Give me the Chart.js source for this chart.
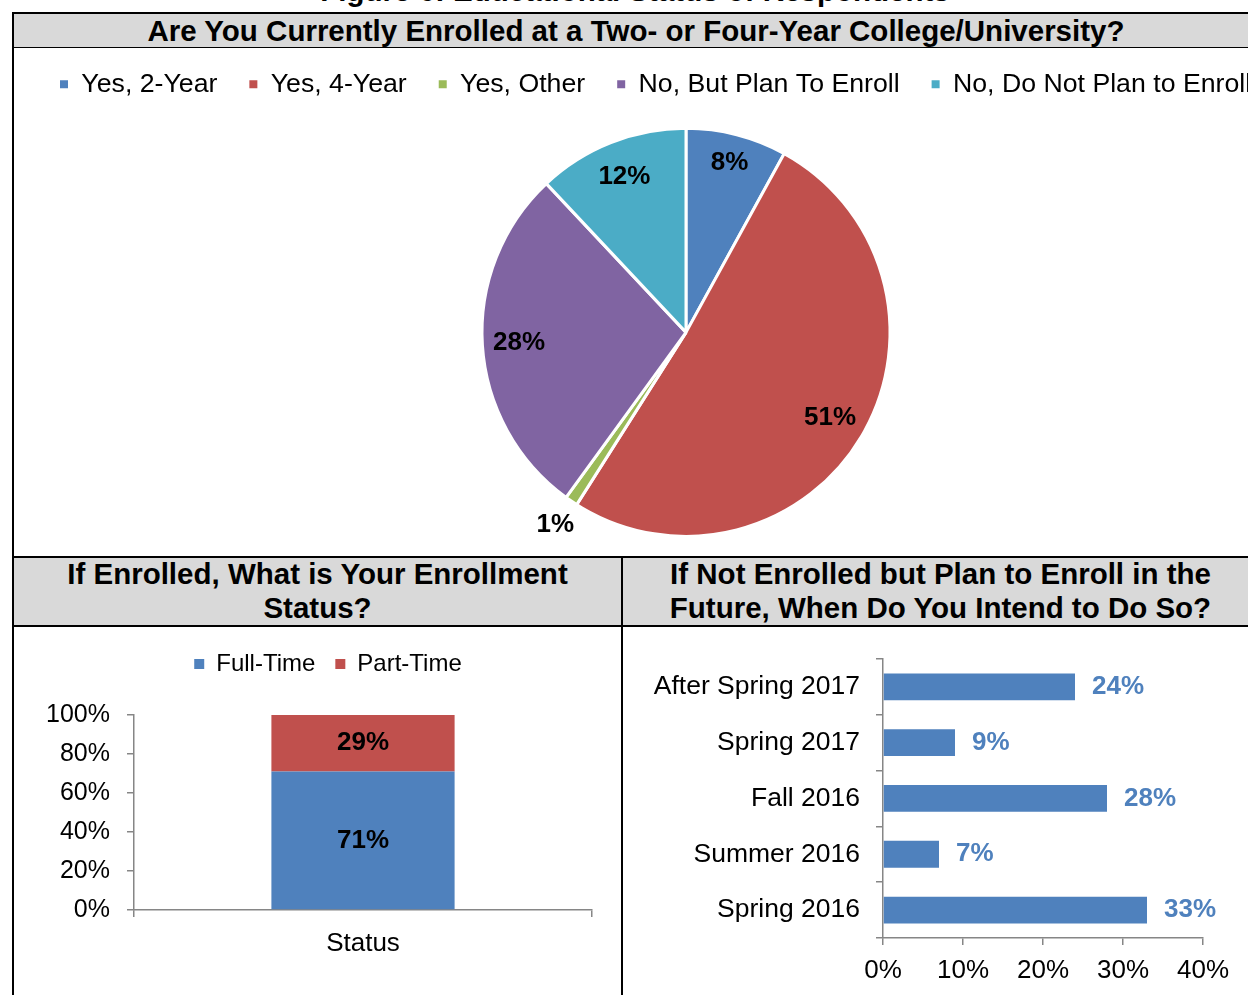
<!DOCTYPE html>
<html>
<head>
<meta charset="utf-8">
<title>Educational Status of Respondents</title>
<script src="https://cdn.jsdelivr.net/npm/chart.js@4.4.1/dist/chart.umd.min.js"></script>
<style>
  html, body { margin: 0; padding: 0; background: #fff; overflow: hidden; }
  body { width: 1248px; height: 995px; position: relative; font-family: "Liberation Sans", Arial, sans-serif; }
  .rule { position: absolute; background: #000; }
  .band { position: absolute; background: #d9d9d9; }
  .head { position: absolute; font-weight: bold; font-size: 29.5px; text-align: center; color: #000; white-space: nowrap; }
  canvas { position: absolute; }
</style>
</head>
<body>

<!-- figure caption, mostly above the page edge -->
<div class="head" style="left:12px; width:1246px; top:-24px; line-height:29px;">Figure 6: Educational Status of Respondents</div>

<!-- table frame -->
<div class="band" style="left:14px; top:14px; width:1244px; height:33px;"></div>
<div class="band" style="left:14px; top:558px; width:1244px; height:67px;"></div>
<div class="rule" style="left:12px; top:12px; width:1246px; height:2px;"></div>
<div class="rule" style="left:12px; top:47px; width:1246px; height:1px;"></div>
<div class="rule" style="left:12px; top:556px; width:1246px; height:2px;"></div>
<div class="rule" style="left:12px; top:625px; width:1246px; height:2px;"></div>
<div class="rule" style="left:12px; top:12px; width:2px; height:983px;"></div>
<div class="rule" style="left:621px; top:556px; width:2px; height:439px;"></div>

<div class="head" style="left:14px; top:14px; width:1244px; line-height:33px;">Are You Currently Enrolled at a Two- or Four-Year College/University?</div>
<div class="head" style="left:14px; top:557px; width:607px; line-height:34px;">If Enrolled, What is Your Enrollment<br>Status?</div>
<div class="head" style="left:623px; top:557px; width:635px; line-height:34px;">If Not Enrolled but Plan to Enroll in the<br>Future, When Do You Intend to Do So?</div>

<canvas id="enrollChart" width="1316" height="518" style="left:28px; top:39px;"></canvas>
<canvas id="statusChart" width="607" height="368" style="left:14px; top:627px;"></canvas>
<canvas id="timingChart" width="635" height="368" style="left:623px; top:627px;"></canvas>

<script>
// enrollment question (pie)
const enrollLabels = ['Yes, 2-Year', 'Yes, 4-Year', 'Yes, Other', 'No, But Plan To Enroll', 'No, Do Not Plan to Enroll'];
const enrollShares = [8, 51, 1, 28, 12];

// enrollment status (stacked column)
const statusLabels = ['Status'];
const fullTimeShares = [71];
const partTimeShares = [29];

// intended enrollment term (horizontal bars, top to bottom)
const timingLabels = ['After Spring 2017', 'Spring 2017', 'Fall 2016', 'Summer 2016', 'Spring 2016'];
const timingShares = [24, 9, 28, 7, 33];

const BLUE = '#4F81BD', RED = '#C0504D', GREEN = '#9BBB59', PURPLE = '#8064A2', AQUA = '#4BACC6';
const AXIS = '#868686';
const FONT = '"Liberation Sans", Arial, sans-serif';

Chart.defaults.font.family = FONT;
Chart.defaults.color = '#000';

const pct = v => v + '%';

// percent labels inside each slice (tiny slices get theirs outside)
const pieLabels = {
    id: 'pieLabels',
    afterDatasetsDraw(chart) {
        const ctx = chart.ctx;
        const values = chart.data.datasets[0].data;
        ctx.save();
        ctx.font = 'bold 26px ' + FONT;
        ctx.fillStyle = '#000';
        ctx.textAlign = 'center';
        ctx.textBaseline = 'middle';
        chart.getDatasetMeta(0).data.forEach((arc, i) => {
            const p = arc.getProps(['x', 'y', 'startAngle', 'endAngle', 'outerRadius'], true);
            const mid = (p.startAngle + p.endAngle) / 2;
            const v = values[i];
            const r = p.outerRadius * (v < 3 ? 1.14 : v < 10 ? 0.86 : 0.82);
            ctx.fillText(pct(v), p.x + Math.cos(mid) * r, p.y + Math.sin(mid) * r);
        });
        ctx.restore();
    }
};

// value in the middle of each stacked segment
const segmentLabels = {
    id: 'segmentLabels',
    afterDatasetsDraw(chart) {
        const ctx = chart.ctx;
        ctx.save();
        ctx.font = 'bold 26px ' + FONT;
        ctx.fillStyle = '#000';
        ctx.textAlign = 'center';
        ctx.textBaseline = 'middle';
        chart.data.datasets.forEach((ds, di) => {
            chart.getDatasetMeta(di).data.forEach((bar, i) => {
                ctx.fillText(pct(ds.data[i]), bar.x, (bar.y + bar.base) / 2);
            });
        });
        ctx.restore();
    }
};

// value just past the end of each horizontal bar
const barEndLabels = {
    id: 'barEndLabels',
    afterDatasetsDraw(chart) {
        const ctx = chart.ctx;
        const values = chart.data.datasets[0].data;
        ctx.save();
        ctx.font = 'bold 26px ' + FONT;
        ctx.fillStyle = BLUE;
        ctx.textAlign = 'left';
        ctx.textBaseline = 'middle';
        chart.getDatasetMeta(0).data.forEach((bar, i) => {
            ctx.fillText(pct(values[i]), bar.x + 17, bar.y);
        });
        ctx.restore();
    }
};

// extra room under the legend, and legend nudged right over the plot
const legendGap = {
    id: 'legendGap',
    beforeInit(chart) {
        const fit = chart.legend.fit;
        chart.legend.fit = function () {
            fit.bind(chart.legend)();
            this.height += 29;
        };
    },
    afterLayout(chart) {
        chart.legend.left += 25;
        chart.legend.right += 25;
    }
};

// pie
new Chart(document.getElementById('enrollChart'), {
    type: 'pie',
    data: {
        labels: enrollLabels,
        datasets: [{
            data: enrollShares,
            backgroundColor: [BLUE, RED, GREEN, PURPLE, AQUA],
            borderColor: '#fff',
            borderWidth: 3,
            radius: 204
        }]
    },
    options: {
        responsive: false,
        animation: false,
        layout: { padding: 0 },
        plugins: {
            legend: {
                align: 'start',
                labels: {
                    boxWidth: 8,
                    boxHeight: 8,
                    padding: 32,
                    font: { size: 26.7 },
                    color: '#000',
                    generateLabels(chart) {
                        const items = Chart.overrides.pie.plugins.legend.labels.generateLabels(chart);
                        return items.map(it => Object.assign(it, { lineWidth: 0 }));
                    }
                }
            },
            tooltip: { enabled: false }
        }
    },
    plugins: [pieLabels]
});

// stacked column
new Chart(document.getElementById('statusChart'), {
    type: 'bar',
    data: {
        labels: statusLabels,
        datasets: [
            { label: 'Full-Time', data: fullTimeShares, backgroundColor: BLUE, barPercentage: 1, categoryPercentage: 0.4 },
            { label: 'Part-Time', data: partTimeShares, backgroundColor: RED, barPercentage: 1, categoryPercentage: 0.4 }
        ]
    },
    options: {
        responsive: false,
        animation: false,
        layout: { padding: { left: 0, right: 29, top: 5, bottom: 0 } },
        scales: {
            x: {
                stacked: true,
                grid: { drawOnChartArea: false, tickLength: 7, color: AXIS, lineWidth: 1.5 },
                border: { color: AXIS, width: 1.5 },
                ticks: { font: { size: 26 }, padding: 11 },
                afterFit(s) { s.height = 85; }
            },
            y: {
                stacked: true,
                min: 0,
                max: 100,
                grid: { drawOnChartArea: false, tickLength: 7, color: AXIS, lineWidth: 1.5 },
                border: { color: AXIS, width: 1.5 },
                ticks: { stepSize: 20, callback: pct, font: { size: 25 }, padding: 17 },
                afterFit(s) { s.width = 120; }
            }
        },
        plugins: {
            legend: {
                labels: { boxWidth: 10, boxHeight: 10, padding: 20, font: { size: 24 }, color: '#000' }
            },
            tooltip: { enabled: false }
        }
    },
    plugins: [legendGap, segmentLabels]
});

// horizontal bars
new Chart(document.getElementById('timingChart'), {
    type: 'bar',
    data: {
        labels: timingLabels,
        datasets: [{ data: timingShares, backgroundColor: BLUE, barPercentage: 1, categoryPercentage: 0.48 }]
    },
    options: {
        indexAxis: 'y',
        responsive: false,
        animation: false,
        layout: { padding: { left: 0, right: 55, top: 27, bottom: 0 } },
        scales: {
            x: {
                min: 0,
                max: 40,
                grid: { drawOnChartArea: false, tickLength: 7, color: AXIS, lineWidth: 1.5 },
                border: { color: AXIS, width: 1.5 },
                ticks: { stepSize: 10, callback: pct, font: { size: 26 }, padding: 10 },
                afterFit(s) { s.height = 57; }
            },
            y: {
                grid: { drawOnChartArea: false, tickLength: 7, color: AXIS, lineWidth: 1.5 },
                border: { color: AXIS, width: 1.5 },
                ticks: { font: { size: 26.5 }, padding: 16 },
                afterFit(s) { s.width = 260; }
            }
        },
        plugins: {
            legend: { display: false },
            tooltip: { enabled: false }
        }
    },
    plugins: [barEndLabels]
});
</script>
</body>
</html>
